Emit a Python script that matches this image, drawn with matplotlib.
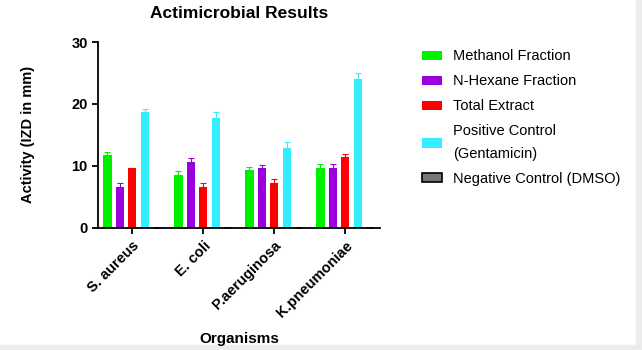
#Antimicrobial activity grouped bar chart
import numpy as np
import matplotlib.pyplot as plt
from matplotlib.patches import Rectangle

plt.rcParams['font.family'] = ['Liberation Sans', 'DejaVu Sans']

#data
organisms = ['S. aureus', 'E. coli', 'P.aeruginosa', 'K.pneumoniae']
series = ['Methanol Fraction', 'N-Hexane Fraction', 'Total Extract',
          'Positive Control\n(Gentamicin)', 'Negative Control (DMSO)']
methanol = [11.7, 8.6, 9.3, 9.7]
hexane = [6.6, 10.6, 9.7, 9.7]
total = [9.6, 6.6, 7.3, 11.4]
positive = [18.7, 17.7, 12.9, 24.1]
negative = [0, 0, 0, 0]
methanol_err = [0.6, 0.6, 0.6, 0.6]
hexane_err = [0.6, 0.6, 0.5, 0.6]
total_err = [0.1, 0.6, 0.6, 0.6]
positive_err = [0.5, 1.0, 1.0, 0.9]
negative_err = [0, 0, 0, 0]

values = [methanol, hexane, total, positive, negative]
errors = [methanol_err, hexane_err, total_err, positive_err, negative_err]
colors = ['#00ee00', '#9900dd', '#ff0000', '#33eeff', '#777777']

fig = plt.figure(figsize=(6.42, 3.5), dpi=100)
ax = fig.add_axes([0.153, 0.349, 0.439, 0.531])

x = np.arange(len(organisms))
pitch = 0.175
width = 0.115
for i in range(len(series)):
    pos = x + (i - 2)*pitch
    err = np.array(errors[i])
    ax.bar(pos, values[i], width, color=colors[i],
           edgecolor='black' if i == 4 else colors[i],
           linewidth=1.2 if i == 4 else 0, label=series[i])
    ax.errorbar(pos, values[i], yerr=[np.zeros_like(err), err], fmt='none',
                ecolor=colors[i], elinewidth=0.8, capsize=2, capthick=0.8)

ax.set_xlim(-0.48, 3.49)
ax.set_ylim(0, 30)
ax.set_yticks([0, 10, 20, 30])
ax.set_xticks(x)
ax.set_xticklabels(organisms, rotation=45, ha='right', rotation_mode='anchor',
                   fontweight='bold', fontsize=10.5)
for lab in ax.get_yticklabels():
    lab.set_fontweight('bold')
    lab.set_fontsize(10.5)
ax.spines['top'].set_visible(False)
ax.spines['right'].set_visible(False)
ax.spines['left'].set_linewidth(1.3)
ax.spines['bottom'].set_linewidth(1.3)
ax.tick_params(width=1.3, length=4)

ax.set_title('Actimicrobial Results', fontweight='bold', fontsize=12.5, pad=17)
ax.set_ylabel('Activity (IZD in mm)', fontweight='bold', fontsize=10.5, labelpad=26)
fig.text(0.372, 0.02, 'Organisms', fontweight='bold', fontsize=11, ha='center')

handles, labels = ax.get_legend_handles_labels()
leg = ax.legend(handles, labels, loc='upper left', bbox_to_anchor=(1.149, 0.96),
                frameon=False, fontsize=10.5, handlelength=1.37, handleheight=0.6,
                handletextpad=0.75, labelspacing=0.75, borderpad=0,
                borderaxespad=0)
for t in leg.get_texts():
    t.set_linespacing(1.8)

#light grey frame on right and bottom
fig.patches.append(Rectangle((0.991, 0), 0.009, 1, transform=fig.transFigure,
                             color='#ececec', zorder=0))
fig.patches.append(Rectangle((0, 0), 1, 0.014, transform=fig.transFigure,
                             color='#ececec', zorder=0))

plt.savefig('out.png', dpi=100)
